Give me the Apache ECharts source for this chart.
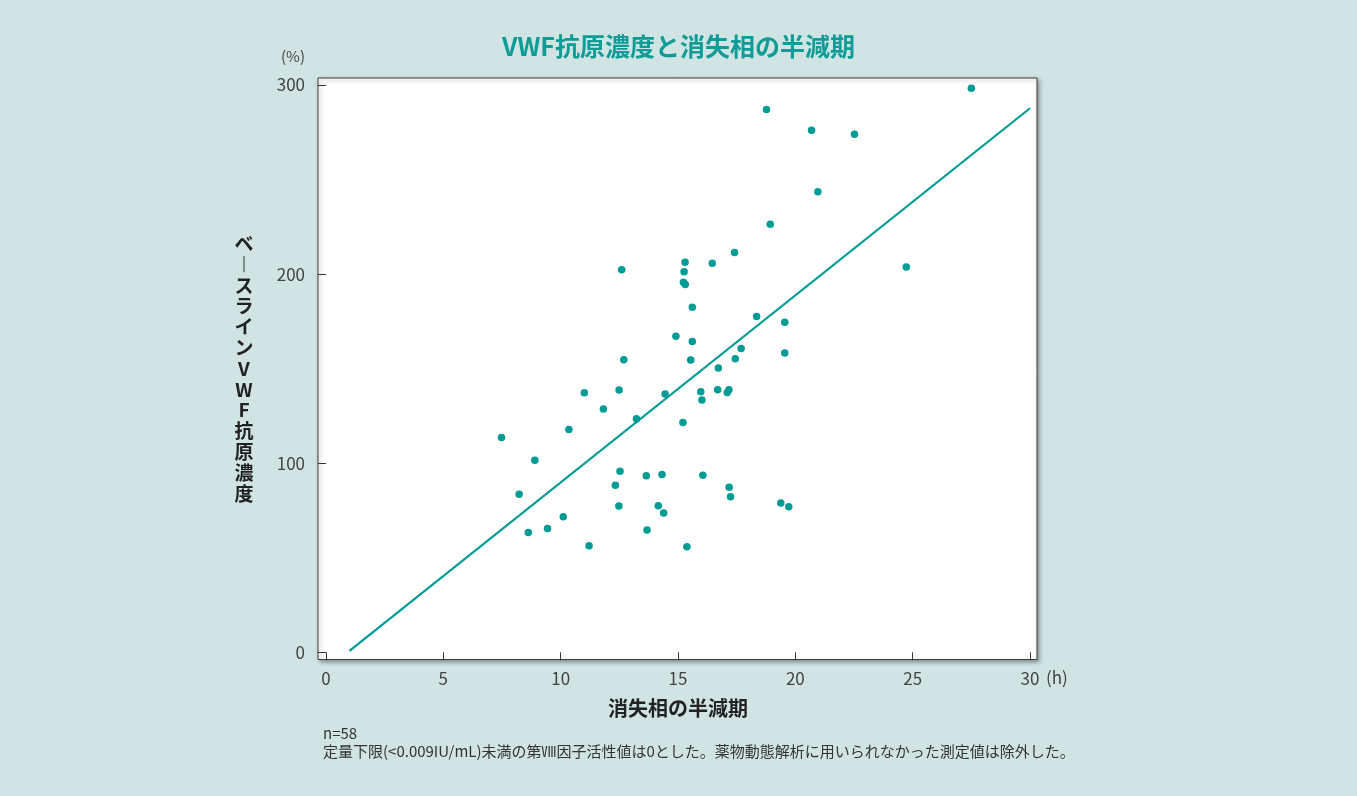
<!DOCTYPE html>
<html lang="ja">
<head>
<meta charset="utf-8">
<title>VWF抗原濃度と消失相の半減期</title>
<script src="https://cdn.jsdelivr.net/npm/echarts@6/dist/echarts.min.js"></script>
<style>
  html, body { margin: 0; padding: 0; background: #d0e4e4; }
  #chart { width: 1357px; height: 796px; }
</style>
</head>
<body>
<div id="chart"></div>
<script>
// Terminal-phase half-life (h) for each patient
const halfLife = [
  27.50, 18.77, 20.69, 22.52, 20.96, 18.93, 17.41, 16.46, 24.73, 12.60,
  15.30, 15.26, 15.23, 15.31, 15.61, 14.91, 15.61, 18.35, 19.55, 17.69,
  19.55, 17.44, 15.54, 12.69, 16.72, 11.01, 12.49, 14.45, 15.97, 16.69,
  17.17, 17.10, 16.02, 11.82, 13.23, 15.21, 7.48, 10.35, 8.90, 12.53,
  13.65, 14.32, 16.06, 12.33, 17.18, 17.24, 8.23, 12.48, 14.16, 14.39,
  10.11, 9.44, 8.62, 13.68, 11.21, 15.38, 19.38, 19.72
];
// Baseline VWF antigen level (%) for the same patients
const vwfAg = [
  298.3, 287.1, 276.1, 274.0, 243.6, 226.3, 211.4, 205.8, 203.7, 202.3,
  206.3, 201.2, 195.7, 194.5, 182.5, 167.1, 164.3, 177.6, 174.5, 160.6,
  158.3, 155.3, 154.6, 154.7, 150.3, 137.3, 138.7, 136.6, 137.8, 138.8,
  138.8, 137.4, 133.4, 128.6, 123.5, 121.5, 113.6, 117.8, 101.6, 95.8,
  93.3, 94.0, 93.6, 88.3, 87.3, 82.3, 83.6, 77.4, 77.5, 73.7,
  71.7, 65.5, 63.4, 64.7, 56.3, 55.8, 79.0, 77.0
];
// Regression line end points
const fitX = [1, 30];
const fitY = [0.8, 287.7];

const xTicks = { min: 0, max: 30, step: 5 };
const yTicks = { min: 0, max: 300, step: 100 };

const title = 'VWF抗原濃度と消失相の半減期';
const xName = '消失相の半減期';
// vertical title; the long-vowel mark uses its vertical form
const yName = 'ベ︱スラインVWF抗原濃度';
const xUnit = '(h)';
const yUnit = '(%)';
const noteLines = [
  'n=58',
  '定量下限(<0.009IU/mL)未満の第Ⅷ因子活性値は0とした。薬物動態解析に用いられなかった測定値は除外した。'
];

const FONT = '"Noto Sans CJK JP", "Noto Sans", sans-serif';
const TEAL = '#009b95';

const points = halfLife.map((h, i) => [h, vwfAg[i]]);
const fitLine = fitX.map((x, i) => [x, fitY[i]]);

const chart = echarts.init(document.getElementById('chart'), null, { renderer: 'canvas' });

chart.setOption({
  backgroundColor: '#d0e4e4',
  textStyle: { fontFamily: FONT },
  title: {
    text: title,
    left: 'center',
    top: 29,
    textStyle: { color: '#0f9c96', fontSize: 25, fontWeight: 'bold', fontFamily: FONT }
  },
  grid: [
    {
      // white framed panel
      show: true,
      left: 318, top: 78, width: 719, height: 581.5,
      backgroundColor: '#ffffff',
      borderColor: '#3c3c3c',
      borderWidth: 1,
      shadowColor: 'rgba(0,0,0,0.35)',
      shadowBlur: 4,
      shadowOffsetX: 2,
      shadowOffsetY: 2
    },
    {
      // plotting area inside the panel
      left: 326, top: 85, width: 704, height: 567.3
    }
  ],
  xAxis: [
    { type: 'value', gridIndex: 0, show: false, min: 0, max: 1 },
    {
      type: 'value', gridIndex: 1,
      min: xTicks.min, max: xTicks.max, interval: xTicks.step,
      offset: 7.2,
      axisLine: { show: false },
      axisTick: { show: true, length: 8, lineStyle: { color: '#333', width: 1 } },
      axisLabel: { margin: 11, fontSize: 17, color: '#444', fontFamily: FONT },
      splitLine: { show: false },
      name: xName,
      nameLocation: 'middle',
      nameGap: 49,
      nameTextStyle: {
        fontSize: 20, fontWeight: 'bold', color: '#222', fontFamily: FONT,
        verticalAlign: 'middle'
      }
    }
  ],
  yAxis: [
    { type: 'value', gridIndex: 0, show: false, min: 0, max: 1 },
    {
      type: 'value', gridIndex: 1,
      min: yTicks.min, max: yTicks.max, interval: yTicks.step,
      offset: 8,
      axisLine: { show: false },
      axisTick: { show: true, length: 8, lineStyle: { color: '#333', width: 1 } },
      axisLabel: { margin: 13, fontSize: 17, color: '#444', fontFamily: FONT },
      splitLine: { show: false },
      name: yName.split('').join('\n'),
      nameLocation: 'middle',
      nameRotate: 0,
      nameGap: 74,
      nameTextStyle: {
        fontSize: 19, fontWeight: 'bold', color: '#222', fontFamily: FONT,
        lineHeight: 20.8, align: 'center', verticalAlign: 'middle'
      }
    }
  ],
  graphic: [
    {
      type: 'text', left: 281, top: 49,
      style: { text: yUnit, fontSize: 15, fill: '#444', fontFamily: FONT }
    },
    {
      type: 'text', left: 1046, top: 669,
      style: { text: xUnit, fontSize: 17, fill: '#444', fontFamily: FONT }
    },
    {
      type: 'text', left: 323, top: 726,
      style: { text: noteLines[0], fontSize: 15, fill: '#333', fontFamily: FONT }
    },
    {
      type: 'text', left: 323, top: 744,
      style: { text: noteLines[1], fontSize: 15, fill: '#333', fontFamily: FONT }
    }
  ],
  series: [
    {
      type: 'line',
      xAxisIndex: 1, yAxisIndex: 1,
      data: fitLine,
      symbol: 'none',
      lineStyle: { color: TEAL, width: 2.2 },
      silent: true,
      z: 2
    },
    {
      type: 'scatter',
      xAxisIndex: 1, yAxisIndex: 1,
      data: points,
      symbol: 'circle',
      symbolSize: 7.5,
      itemStyle: { color: TEAL, opacity: 1 },
      z: 3
    }
  ]
});
</script>
</body>
</html>
